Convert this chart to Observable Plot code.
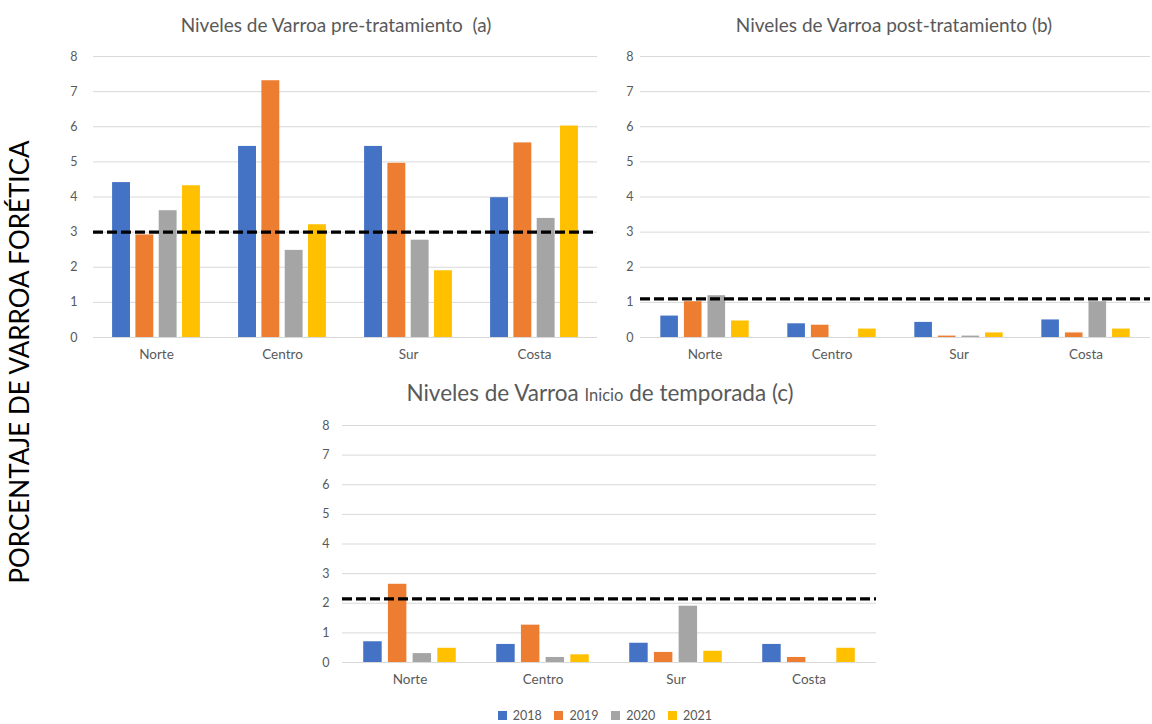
<!DOCTYPE html>
<html>
<head>
<meta charset="utf-8">
<script src="https://cdn.jsdelivr.net/npm/d3@7"></script>
<script src="https://cdn.jsdelivr.net/npm/@observablehq/plot@0.6"></script>
<style>
  html, body { margin: 0; padding: 0; background: #fff; }
  #root { position: relative; width: 1152px; height: 724px; overflow: hidden; font-family: Lato, "Open Sans", sans-serif; }
  .panel { position: absolute; }
  .title { position: absolute; color: #595959; white-space: nowrap; transform: translate(-50%, -50%); }
  #ylabel { position: absolute; left: 19px; top: 362px; transform: translate(-50%, -50%) rotate(-90deg); font-size: 26px; color: #000; white-space: nowrap; }
  #legend { position: absolute; left: 0; top: 699px; width: 1222px; display: flex; justify-content: center; }
</style>
</head>
<body>
<div id="root">
  <div id="ylabel">PORCENTAJE DE VARROA FORÉTICA</div>
  <div class="title" style="left:336px; top:24px; font-size:19px;">Niveles de Varroa pre-tratamiento&nbsp; (a)</div>
  <div class="title" style="left:894px; top:24px; font-size:19px;">Niveles de Varroa post-tratamiento (b)</div>
  <div class="title" style="left:600px; top:392px; font-size:22.5px;">Niveles de Varroa <span style="font-size:16.5px;">Inicio</span> de temporada (c)</div>
  <div id="legend"></div>
</div>
<script>
// Regions, years and series colours
const regions = ["Norte", "Centro", "Sur", "Costa"];
const years = ["2018", "2019", "2020", "2021"];
const yearColors = ["#4472C4", "#ED7D31", "#A5A5A5", "#FFC000"];
const yTicks = [0, 1, 2, 3, 4, 5, 6, 7, 8];

// Pre-treatment varroa levels (%), one array per year, in region order
const pre2018 = [4.41, 5.44, 5.44, 3.98];
const pre2019 = [2.92, 7.31, 4.96, 5.54];
const pre2020 = [3.61, 2.48, 2.77, 3.39];
const pre2021 = [4.32, 3.21, 1.90, 6.02];
const preThreshold = 3.0;

// Post-treatment varroa levels (%)
const post2018 = [0.61, 0.39, 0.43, 0.50];
const post2019 = [1.02, 0.35, 0.04, 0.13];
const post2020 = [1.19, 0.00, 0.04, 1.02];
const post2021 = [0.47, 0.24, 0.13, 0.24];
const postThreshold = 1.1;

// Start-of-season varroa levels (%)
const start2018 = [0.70, 0.61, 0.65, 0.61];
const start2019 = [2.64, 1.26, 0.34, 0.17];
const start2020 = [0.30, 0.17, 1.90, 0.00];
const start2021 = [0.48, 0.26, 0.38, 0.48];
const startThreshold = 2.15;

function tidy(series) {
  const rows = [];
  series.forEach((vals, j) => vals.forEach((v, i) => rows.push({region: regions[i], year: years[j], value: v})));
  return rows;
}

// Grouped bar chart: each year is its own barY mark, narrowed inside the region band
function groupedChart({rows, threshold, width, height, margins, tickPadding}) {
  const [mt, mr, mb, ml] = margins;
  const bw = (width - ml - mr) / regions.length;
  const barW = bw * 0.142;
  const step = bw * 0.185;
  const barMarks = years.map((yr, j) => {
    const left = bw / 2 + (j - 1.5) * step - barW / 2;
    return Plot.barY(rows.filter(d => d.year === yr && d.value > 0), {
      x: "region", y: "value", fill: yearColors[j],
      insetLeft: left, insetRight: bw - left - barW
    });
  });
  return Plot.plot({
    width, height,
    marginTop: mt, marginRight: mr, marginBottom: mb, marginLeft: ml,
    style: {fontFamily: "Lato, 'Open Sans', sans-serif", fontSize: "12.5px", color: "#595959", background: "transparent"},
    x: {domain: regions, padding: 0, label: null},
    y: {domain: [0, 8], label: null},
    marks: [
      Plot.ruleY(yTicks, {stroke: "#D9D9D9", strokeWidth: 1}),
      ...barMarks,
      Plot.ruleY([threshold], {stroke: "#000", strokeWidth: 3.2, strokeDasharray: "10,4"}),
      Plot.axisY({ticks: yTicks, tickSize: 0, tickPadding, tickFormat: d3.format("d"), label: null}),
      Plot.axisX({tickSize: 0, tickPadding: 12, label: null, fontSize: 13.5})
    ]
  });
}

const root = document.getElementById("root");
function place(svg, left, top) {
  svg.classList.add("panel");
  svg.style.position = "absolute";
  svg.style.left = left + "px";
  svg.style.top = top + "px";
  root.appendChild(svg);
}

place(groupedChart({
  rows: tidy([pre2018, pre2019, pre2020, pre2021]), threshold: preThreshold,
  width: 545, height: 330, margins: [16, 8, 33, 33], tickPadding: 16
}), 60, 40);

place(groupedChart({
  rows: tidy([post2018, post2019, post2020, post2021]), threshold: postThreshold,
  width: 552, height: 330, margins: [16, 2, 33, 40], tickPadding: 7
}), 600, 40);

place(groupedChart({
  rows: tidy([start2018, start2019, start2020, start2021]), threshold: startThreshold,
  width: 590, height: 295, margins: [20, 14, 38, 42], tickPadding: 13
}), 300, 405);

// Shared year legend
const legend = Plot.legend({
  color: {domain: years, range: yearColors},
  swatchSize: 9,
  style: {fontFamily: "Lato, 'Open Sans', sans-serif", fontSize: "12.5px", color: "#595959"}
});
document.getElementById("legend").appendChild(legend);
</script>
</body>
</html>
